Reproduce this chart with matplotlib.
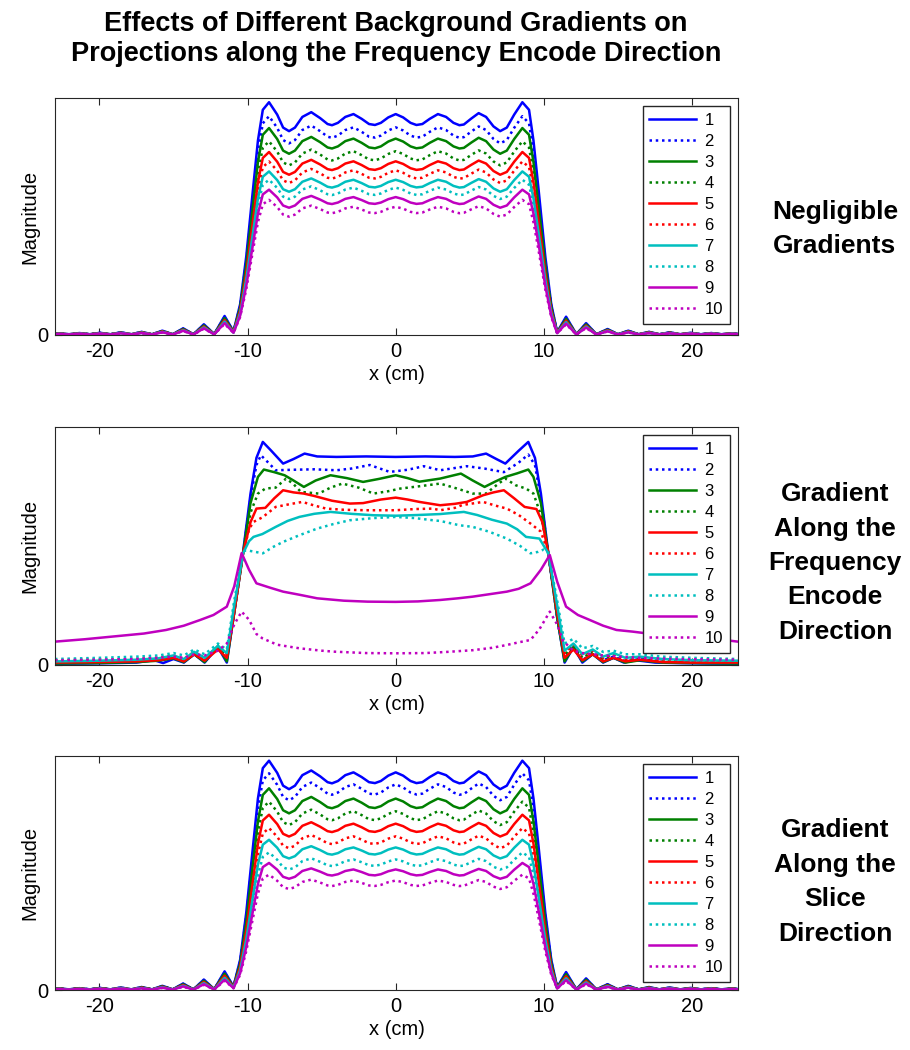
import matplotlib.pyplot as plt

prof_x = [-23.0, -22.75, -22.05, -21.35, -20.65, -19.95, -19.25, -18.55, -17.85, -17.15,
          -16.45, -15.75, -15.05, -14.35, -13.65, -12.95, -12.25, -11.55, -10.95, -10.5,
          -10.09, -9.64, -9.3, -8.97, -8.55, -8.0, -7.6, -7.2, -6.8, -6.3, -5.7, -5.1, -4.6,
          -4.3, -3.9, -3.4, -2.85, -2.3, -1.8, -1.4, -1.0, -0.5, 0.0, 0.5, 1.0, 1.4, 1.8,
          2.3, 2.85, 3.4, 3.9, 4.3, 4.6, 5.1, 5.6, 6.1, 6.6, 7.05, 7.5, 8.0, 8.55, 9.0, 9.3,
          9.65, 10.1, 10.5, 10.9, 11.5, 12.2, 12.85, 13.55, 14.3, 15.0, 15.7, 16.4, 17.1,
          17.8, 18.5, 19.2, 19.9, 20.6, 21.3, 22.0, 22.7, 23.1]
prof_y = [0.004, 0.007, 0.003, 0.008, 0.003, 0.009, 0.003, 0.011, 0.003, 0.013,
          0.003, 0.018, 0.003, 0.028, 0.003, 0.045, 0.004, 0.08, 0.015, 0.13,
          0.33, 0.61, 0.82, 0.95, 0.982, 0.93, 0.875, 0.86, 0.875, 0.92, 0.94, 0.915, 0.89,
          0.885, 0.895, 0.92, 0.932, 0.912, 0.89, 0.886, 0.895, 0.918, 0.932, 0.918, 0.895, 0.886, 0.89,
          0.912, 0.932, 0.92, 0.895, 0.885, 0.888, 0.913, 0.936, 0.92, 0.88, 0.86, 0.875, 0.93, 0.982, 0.95, 0.82,
          0.61, 0.33, 0.13, 0.012, 0.077, 0.003, 0.05, 0.003, 0.025, 0.003, 0.018, 0.003, 0.013,
          0.003, 0.011, 0.003, 0.009, 0.003, 0.008, 0.003, 0.007, 0.004]

# peak height of each of the 10 curves
neg_peaks = [0.982, 0.923, 0.873, 0.817, 0.772, 0.732, 0.69, 0.655, 0.613, 0.57]
slice_peaks = [0.98, 0.926, 0.862, 0.805, 0.749, 0.692, 0.642, 0.588, 0.543, 0.493]

# gradient along frequency encode direction, one curve at a time
fe1_x = [-23, -21, -19, -17.5, -16.3, -15.7, -15.0, -14.3, -13.6, -12.9, -12.0, -11.4, -10.9, -10.3, -9.8, -9.4,
         -8.97, -8.4, -7.6, -6.9, -6.15, -5.3, -4, -2, 0, 2, 4, 5.2, 6.1, 6.8, 7.4, 8.3, 8.95, 9.4, 9.8, 10.3,
         10.9, 11.4, 12.0, 12.6, 13.3, 14.0, 14.7, 15.4, 16.2, 17.5, 19, 21, 23.1]
fe1_y = [0.005, 0.006, 0.008, 0.01, 0.02, 0.008, 0.025, 0.01, 0.045, 0.01, 0.075, 0.01, 0.22, 0.476, 0.72, 0.87,
         0.937, 0.9, 0.846, 0.865, 0.888, 0.876, 0.874, 0.876, 0.874, 0.876, 0.874, 0.876, 0.888, 0.865, 0.846, 0.9,
         0.937, 0.87, 0.72, 0.47, 0.2, 0.01, 0.075, 0.01, 0.045, 0.01, 0.03, 0.01, 0.02, 0.01, 0.008, 0.006, 0.005]

fe2_x = [-23, -20, -17.5, -16, -15, -14.3, -13.6, -12.9, -12.0, -11.4, -10.9, -10.3, -9.8, -9.4, -9.1, -8.6,
         -8.1, -7.0, -5.5, -4.0, -3.0, -1.75, -0.4, 0.8, 1.9, 3.0, 4.8, 6.0, 7.3, 8.3, 8.95, 9.4, 9.8, 10.3,
         10.9, 11.4, 12.0, 12.6, 13.3, 14.0, 14.7, 15.5, 16.5, 18, 20, 23.1]
fe2_y = [0.008, 0.01, 0.015, 0.02, 0.03, 0.015, 0.045, 0.015, 0.075, 0.02, 0.22, 0.47, 0.7, 0.84, 0.881, 0.85,
         0.818, 0.82, 0.822, 0.818, 0.825, 0.84, 0.811, 0.82, 0.835, 0.818, 0.835, 0.825, 0.81, 0.85, 0.884, 0.84,
         0.7, 0.47, 0.2, 0.025, 0.08, 0.02, 0.05, 0.02, 0.035, 0.015, 0.025, 0.012, 0.01, 0.008]

fe3_x = [-23, -20, -17.5, -16, -15, -14.3, -13.6, -12.9, -12.0, -11.4, -10.9, -10.3, -9.8, -9.3, -8.9, -8.2,
         -7.5, -6.9, -6.2, -5.4, -4.4, -3.3, -2.2, -1.1, 0, 0.8, 1.6, 3.0, 4.4, 5.2, 6.0, 6.7, 7.4, 8.2, 8.95,
         9.3, 9.8, 10.3, 10.9, 11.4, 12.0, 12.6, 13.3, 14.0, 14.7, 15.5, 16.5, 18, 20, 23.1]
fe3_y = [0.006, 0.008, 0.012, 0.018, 0.028, 0.012, 0.045, 0.012, 0.08, 0.015, 0.22, 0.47, 0.68, 0.79, 0.821, 0.81,
         0.797, 0.775, 0.748, 0.775, 0.797, 0.785, 0.769, 0.782, 0.797, 0.785, 0.77, 0.783, 0.804, 0.775, 0.748,
         0.77, 0.79, 0.805, 0.821, 0.79, 0.68, 0.47, 0.2, 0.015, 0.075, 0.015, 0.045, 0.012, 0.03, 0.01, 0.02,
         0.01, 0.008, 0.006]

fe4_x = [-23, -20, -17.5, -16, -15, -14.3, -13.6, -12.9, -12.0, -11.4, -10.9, -10.3, -9.8, -9.3, -8.8, -8.1,
         -7.4, -6.9, -6.4, -5.2, -4.4, -3.6, -2.5, -1.5, -0.5, 0.3, 1.5, 3.0, 4.2, 5.2, 6.1, 6.8, 7.4, 8.1, 8.8,
         9.3, 9.8, 10.3, 10.9, 11.4, 12.0, 12.6, 13.3, 14.0, 14.7, 15.5, 16.5, 18, 20, 23.1]
fe4_y = [0.015, 0.018, 0.02, 0.025, 0.035, 0.02, 0.05, 0.02, 0.08, 0.03, 0.22, 0.47, 0.64, 0.72, 0.741, 0.745,
         0.783, 0.76, 0.727, 0.72, 0.745, 0.762, 0.745, 0.72, 0.73, 0.741, 0.75, 0.762, 0.74, 0.72, 0.72, 0.755,
         0.783, 0.755, 0.741, 0.72, 0.63, 0.47, 0.22, 0.04, 0.085, 0.03, 0.055, 0.025, 0.04, 0.02, 0.03, 0.018,
         0.015, 0.012]

fe5_x = [-23, -20, -17.5, -16, -15, -14.3, -13.6, -12.9, -12.0, -11.4, -10.9, -10.3, -9.8, -9.4, -8.8, -8.2,
         -7.6, -6.9, -6.2, -5.5, -4.3, -3.1, -2.2, -1.0, 0, 0.8, 1.6, 3.0, 4.0, 4.8, 5.9, 6.6, 7.3, 8.0, 8.7,
         9.5, 9.9, 10.3, 10.9, 11.4, 12.0, 12.6, 13.3, 14.0, 14.7, 15.5, 16.5, 18, 20, 23.1]
fe5_y = [0.01, 0.012, 0.015, 0.02, 0.03, 0.015, 0.045, 0.018, 0.065, 0.03, 0.22, 0.47, 0.6, 0.657, 0.66, 0.7,
         0.734, 0.725, 0.72, 0.71, 0.69, 0.678, 0.68, 0.695, 0.703, 0.695, 0.685, 0.671, 0.677, 0.685, 0.713,
         0.725, 0.734, 0.7, 0.664, 0.655, 0.6, 0.47, 0.22, 0.03, 0.065, 0.02, 0.045, 0.015, 0.03, 0.015, 0.022,
         0.012, 0.01, 0.01]

fe6_x = [-23, -20, -17.5, -16, -15, -14.3, -13.6, -12.9, -12.0, -11.4, -10.9, -10.3, -9.9, -9.6, -9.0, -8.1,
         -7.2, -6.3, -5.5, -4.7, -3.5, -2, 0, 1.3, 2.5, 3.0, 4.0, 4.5, 5.9, 6.7, 7.5, 8.3, 9.1, 9.8, 10.3, 10.9,
         11.4, 12.0, 12.6, 13.3, 14.0, 14.7, 15.5, 16.5, 18, 20, 23.1]
fe6_y = [0.02, 0.022, 0.025, 0.03, 0.04, 0.025, 0.055, 0.03, 0.075, 0.045, 0.25, 0.47, 0.57, 0.601, 0.62, 0.664,
         0.675, 0.685, 0.67, 0.657, 0.652, 0.65, 0.65, 0.655, 0.657, 0.65, 0.66, 0.672, 0.685, 0.67, 0.657, 0.63,
         0.594, 0.56, 0.47, 0.24, 0.05, 0.085, 0.04, 0.06, 0.03, 0.045, 0.025, 0.03, 0.02, 0.018, 0.015]

fe7_x = [-23, -20, -17.5, -16, -15, -14.3, -13.6, -12.9, -12.0, -11.4, -10.9, -10.3, -9.9, -9.6, -9.0, -8.1,
         -7.3, -6.5, -5.5, -4.4, -3, -1.5, 0, 1.5, 3.0, 4.6, 5.5, 6.5, 7.5, 8.2, 8.8, 9.7, 10.0, 10.3, 10.9,
         11.4, 12.0, 12.6, 13.3, 14.0, 14.7, 15.5, 16.5, 18, 20, 23.1]
fe7_y = [0.015, 0.018, 0.022, 0.028, 0.04, 0.025, 0.055, 0.03, 0.08, 0.05, 0.25, 0.47, 0.52, 0.538, 0.55, 0.58,
         0.605, 0.622, 0.635, 0.643, 0.635, 0.629, 0.627, 0.63, 0.634, 0.643, 0.63, 0.61, 0.594, 0.57, 0.538,
         0.531, 0.5, 0.47, 0.25, 0.06, 0.09, 0.045, 0.065, 0.035, 0.05, 0.03, 0.035, 0.025, 0.02, 0.018]

fe8_x = [-23, -20, -17.5, -16, -15, -14.3, -13.6, -12.9, -12.0, -11.4, -10.9, -10.3, -9.9, -8.97, -8.3, -7.6,
         -6.5, -5.3, -4.2, -3.1, -1.5, 0, 1.3, 2.5, 3.0, 4.3, 5.2, 6.3, 7.5, 8.4, 9.1, 9.6, 10.0, 10.3, 10.9,
         11.4, 12.0, 12.6, 13.3, 14.0, 14.7, 15.5, 16.5, 18, 20, 23.1]
fe8_y = [0.025, 0.03, 0.035, 0.04, 0.05, 0.04, 0.065, 0.045, 0.09, 0.065, 0.27, 0.48, 0.48, 0.469, 0.495, 0.517,
         0.545, 0.573, 0.592, 0.608, 0.617, 0.622, 0.617, 0.608, 0.605, 0.587, 0.58, 0.56, 0.531, 0.5, 0.469,
         0.475, 0.485, 0.47, 0.27, 0.09, 0.11, 0.07, 0.08, 0.055, 0.06, 0.045, 0.045, 0.035, 0.03, 0.025]

fe9_x = [-23, -21, -19, -17, -15.5, -14.3, -13.2, -12.3, -11.4, -10.9, -10.4, -9.9, -9.4, -8.5, -7.6, -6.5,
         -5.3, -3.5, -1.9, 0, 1.5, 3.0, 4.2, 5.2, 6.3, 7.5, 8.3, 9.1, 9.8, 10.4, 10.9, 11.5, 12.3, 13.1, 14.0,
         14.9, 16.0, 16.9, 18.5, 20, 21.5, 23.1]
fe9_y = [0.098, 0.108, 0.12, 0.132, 0.147, 0.165, 0.189, 0.21, 0.245, 0.33, 0.47, 0.4, 0.343, 0.325, 0.308,
         0.295, 0.28, 0.27, 0.266, 0.265, 0.267, 0.273, 0.28, 0.287, 0.297, 0.308, 0.32, 0.343, 0.4, 0.462, 0.35,
         0.245, 0.21, 0.189, 0.165, 0.147, 0.14, 0.133, 0.125, 0.119, 0.11, 0.098]

fe10_x = [-23, -20, -17.5, -16, -15, -14.3, -13.6, -12.9, -12.0, -11.4, -10.9, -10.4, -9.9, -9.4, -9.0, -8.0,
          -6.5, -5.0, -4.2, -2, 0, 2, 3.5, 5.2, 6.5, 7.5, 8.3, 9.1, 9.7, 10.4, 10.9, 11.3, 12.0, 12.6, 13.3,
          14.0, 15, 16.5, 18, 20, 23.1]
fe10_y = [0.02, 0.022, 0.025, 0.03, 0.035, 0.03, 0.045, 0.04, 0.06, 0.09, 0.17, 0.224, 0.19, 0.13, 0.112,
          0.085, 0.07, 0.06, 0.056, 0.05, 0.049, 0.05, 0.055, 0.062, 0.072, 0.084, 0.095, 0.105, 0.15, 0.224,
          0.17, 0.1, 0.06, 0.05, 0.045, 0.04, 0.035, 0.03, 0.027, 0.024, 0.022]

labels = ['1', '2', '3', '4', '5', '6', '7', '8', '9', '10']
colors = ['#0000ff', '#0000ff', '#008000', '#008000', '#ff0000', '#ff0000',
          '#00bfbf', '#00bfbf', '#bf00bf', '#bf00bf']
styles = ['-', (0, (1, 1.5))] * 5

side_text = ['Negligible\nGradients',
             'Gradient\nAlong the\nFrequency\nEncode\nDirection',
             'Gradient\nAlong the\nSlice\nDirection']

plt.rcParams['font.family'] = ['Liberation Sans', 'DejaVu Sans']
plt.rcParams['axes.unicode_minus'] = False

fig = plt.figure(figsize=(9.1, 10.5), dpi=100)

fig.text(0.435, 1 - 39 / 1050,
         'Effects of Different Background Gradients on\nProjections along the Frequency Encode Direction',
         ha='center', va='center', fontsize=19.5, fontweight='bold', linespacing=1.2)

boxes = [[0.0604, 0.681, 0.7505, 0.2257],
         [0.0604, 0.3667, 0.7505, 0.2267],
         [0.0604, 0.0571, 0.7505, 0.2229]]
text_y = [1 - 229 / 1050, 1 - 563 / 1050, 1 - 882 / 1050]


def style_axes(ax):
    ax.set_xlim(-23, 23.1)
    ax.set_ylim(0, 1)
    ax.set_xticks([-20, -10, 0, 10, 20])
    ax.set_yticks([0])
    ax.tick_params(direction='in', top=True, right=True, length=5, width=0.8,
                   labelsize=14.5, color='#262626', pad=5)
    for sp in ax.spines.values():
        sp.set_color('#262626')
        sp.set_linewidth(0.8)
    ax.set_xlabel('x (cm)', fontsize=14.5, labelpad=3)
    ax.set_ylabel('Magnitude', fontsize=14.5, labelpad=-2)
    ax.legend(loc='upper right', fontsize=12, handlelength=2.8, labelspacing=0.36,
              fancybox=False, edgecolor='#262626', framealpha=1, borderaxespad=0.5,
              borderpad=0.4, handletextpad=0.5)


fe_curves = [(fe1_x, fe1_y), (fe2_x, fe2_y), (fe3_x, fe3_y), (fe4_x, fe4_y), (fe5_x, fe5_y),
             (fe6_x, fe6_y), (fe7_x, fe7_y), (fe8_x, fe8_y), (fe9_x, fe9_y), (fe10_x, fe10_y)]

for p in range(3):
    ax = fig.add_axes(boxes[p])
    for i in range(10):
        if p == 1:
            xs, ys = fe_curves[i]
        else:
            peaks = neg_peaks if p == 0 else slice_peaks
            xs = prof_x
            ys = [v * peaks[i] / prof_y[24] for v in prof_y]
        ax.plot(xs, ys, color=colors[i], linestyle=styles[i], linewidth=1.8, label=labels[i])
    style_axes(ax)
    fig.text(835 / 910, text_y[p], side_text[p], ha='center', va='center', fontsize=19,
             fontweight='bold', linespacing=1.55)

fig.savefig('out.png', dpi=100)
